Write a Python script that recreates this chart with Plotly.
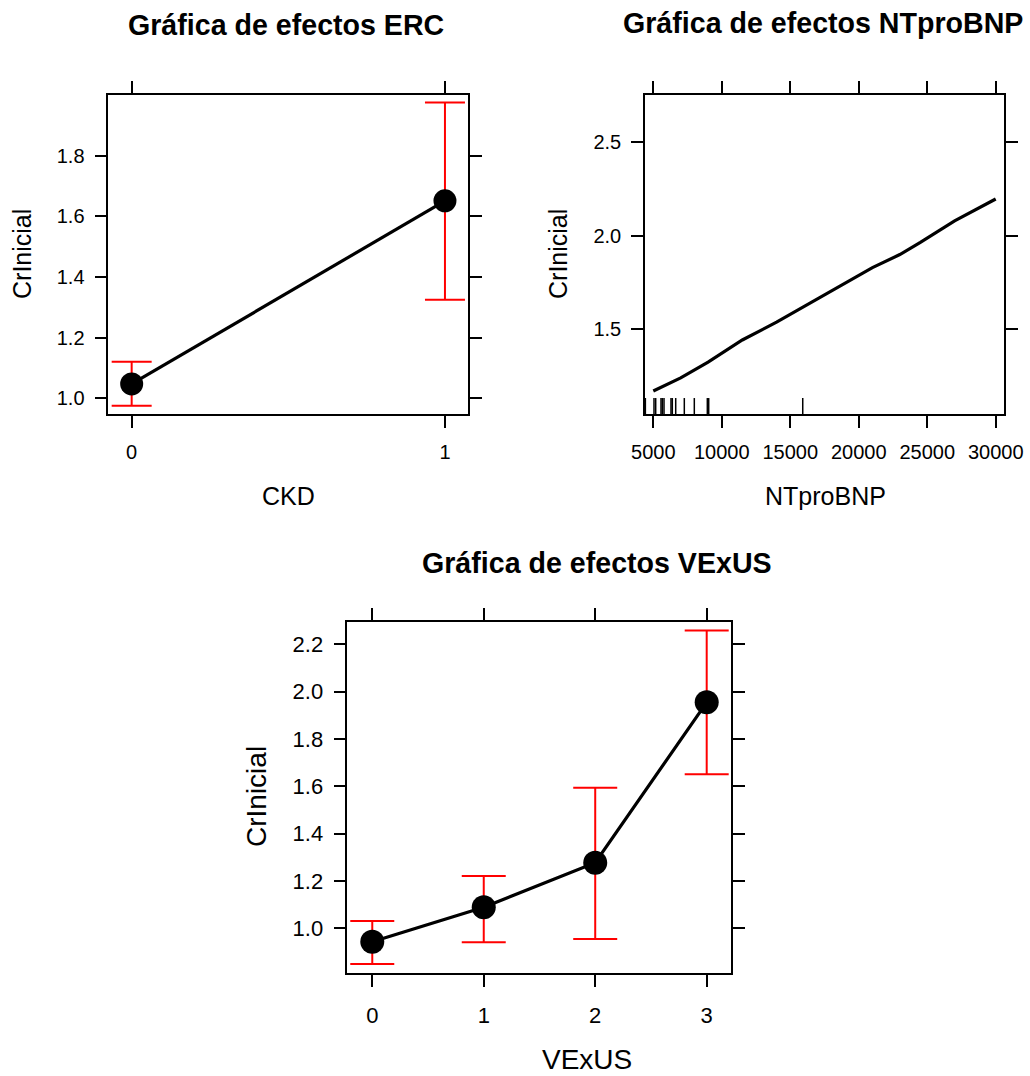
import plotly.graph_objects as go

# ---------------- data ----------------
ckd_x = [0, 1]
ckd_fit = [1.047, 1.651]
ckd_lower = [0.975, 1.325]
ckd_upper = [1.120, 1.975]

nt_x = [5000, 7000, 9000, 11500, 14000, 17500, 19500, 21000, 23000, 24500, 27000, 30000]
nt_fit = [1.170, 1.240, 1.325, 1.443, 1.538, 1.683, 1.765, 1.830, 1.900, 1.965, 2.080, 2.197]
nt_rug = [4420, 5051, 5175, 5562, 5657, 5781, 6293, 6388, 6636, 7264, 7994, 8944, 9046, 15911]

vexus_x = [0, 1, 2, 3]
vexus_fit = [0.943, 1.089, 1.277, 1.955]
vexus_lower = [0.849, 0.941, 0.955, 1.651]
vexus_upper = [1.031, 1.221, 1.594, 2.258]

ckd_ticks = [0, 1]
ckd_yticks = [1.0, 1.2, 1.4, 1.6, 1.8]
nt_ticks = [5000, 10000, 15000, 20000, 25000, 30000]
nt_yticks = [1.5, 2.0, 2.5]
vexus_ticks = [0, 1, 2, 3]
vexus_yticks = [1.0, 1.2, 1.4, 1.6, 1.8, 2.0, 2.2]

titles = ["Gráfica de efectos ERC", "Gráfica de efectos NTproBNP", "Gráfica de efectos VExUS"]
xlabels = ["CKD", "NTproBNP", "VExUS"]
ylabel = "CrInicial"

# ---------------- figure ----------------
W, H = 1030, 1076
FONT = "Liberation Sans, Arial, sans-serif"

def px_x(p):
    return p / W

def px_y(p):
    return 1 - p / H

fig = go.Figure()

def err(fit, lo, up):
    return dict(type="data", symmetric=False,
                array=[u - f for u, f in zip(up, fit)],
                arrayminus=[f - l for f, l in zip(fit, lo)])

e1 = err(ckd_fit, ckd_lower, ckd_upper)
e1.update(color="#ff0000", thickness=2, width=20)
fig.add_trace(go.Scatter(x=ckd_x, y=ckd_fit, mode="lines+markers",
                         line=dict(color="black", width=3.2),
                         marker=dict(color="black", size=23),
                         error_y=e1, xaxis="x", yaxis="y", showlegend=False))

fig.add_trace(go.Scatter(x=nt_x, y=nt_fit, mode="lines",
                         line=dict(color="black", width=3.2),
                         xaxis="x2", yaxis="y2", showlegend=False))

e3 = err(vexus_fit, vexus_lower, vexus_upper)
e3.update(color="#ff0000", thickness=2, width=22)
fig.add_trace(go.Scatter(x=vexus_x, y=vexus_fit, mode="lines+markers",
                         line=dict(color="black", width=3.2),
                         marker=dict(color="black", size=24),
                         error_y=e3, xaxis="x3", yaxis="y3", showlegend=False))

# rug
shapes = []
for r in nt_rug:
    shapes.append(dict(type="line", xref="x2", yref="y2 domain", x0=r, x1=r,
                       y0=0, y1=0.05, line=dict(color="black", width=1.5)))

def ax(domain, rng, ticks, fmt=None, anchor=None, size=20, standoff=8):
    d = dict(domain=domain, range=rng, tickmode="array", tickvals=ticks,
             showline=True, linecolor="black", linewidth=1.5, mirror="allticks",
             ticks="outside", ticklen=12, tickwidth=1.5, tickcolor="black",
             showgrid=False, zeroline=False, anchor=anchor, automargin=False,
             tickfont=dict(size=size, color="black", family=FONT),
             ticklabelstandoff=standoff)
    if fmt:
        d["tickformat"] = fmt
    return d

fig.update_layout(
    width=W, height=H, margin=dict(l=0, r=0, t=0, b=0),
    plot_bgcolor="white", paper_bgcolor="white",
    font=dict(family=FONT, color="black"),
    xaxis=ax([px_x(108.3), px_x(468.3)], [-0.0746, 1.0745], ckd_ticks, anchor="y", standoff=7),
    yaxis=ax([px_y(414.3), px_y(94.7)], [0.947, 2.001], ckd_yticks, ".1f", anchor="x", standoff=6),
    xaxis2=ax([px_x(645), px_x(1004.3)], [4394, 30628], nt_ticks, "d", anchor="y2", standoff=7),
    yaxis2=ax([px_y(414), px_y(94.7)], [1.047, 2.755], nt_yticks, ".1f", anchor="x2", standoff=6),
    xaxis3=ax([px_x(347.3), px_x(731)], [-0.224, 3.218], vexus_ticks, anchor="y3", size=22, standoff=10),
    yaxis3=ax([px_y(973.3), px_y(621.7)], [0.810, 2.2955], vexus_yticks, ".1f", anchor="x3", size=22, standoff=6),
    shapes=shapes,
)

ann = []
def text(t, x, y, size, bold=False, angle=0):
    ann.append(dict(text=("<b>%s</b>" % t) if bold else t, x=px_x(x), y=px_y(y),
                    xref="paper", yref="paper", showarrow=False,
                    xanchor="center", yanchor="middle", textangle=angle,
                    font=dict(size=size, color="black", family=FONT)))

text(titles[0], 286, 25, 28.6, bold=True)
text(titles[1], 823, 23, 28.6, bold=True)
text(titles[2], 597, 563, 28.6, bold=True)
text(xlabels[0], 288, 496, 25)
text(xlabels[1], 825, 496, 25)
text(xlabels[2], 587, 1059, 28)
text(ylabel, 22, 254, 25, angle=-90)
text(ylabel, 558, 254, 25, angle=-90)
text(ylabel, 256, 797, 28, angle=-90)
fig.update_layout(annotations=ann)

fig.write_html("out.html", config={"displayModeBar": False},
               post_script="document.body.style.margin='0';document.body.style.overflow='hidden';")
